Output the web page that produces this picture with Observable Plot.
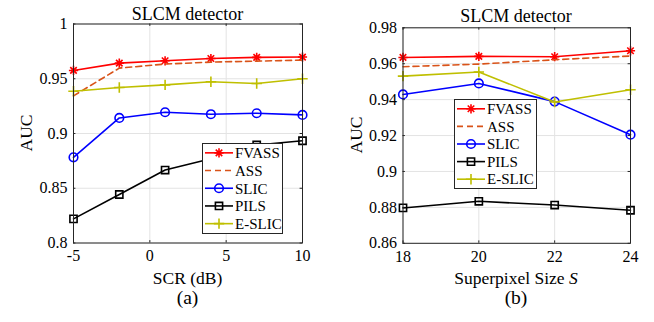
<!DOCTYPE html>
<html><head><meta charset="utf-8">
<script src="https://cdn.jsdelivr.net/npm/d3@7"></script>
<script src="https://cdn.jsdelivr.net/npm/@observablehq/plot@0.6"></script>
<style>
body{margin:0;background:#fff;}
#wrap{position:relative;width:654px;height:322px;font-family:"Liberation Serif",serif;color:#000;overflow:hidden;}
#wrap svg, #wrap svg text, #wrap .t{font-family:"Liberation Serif",serif !important;}
.t{position:absolute;white-space:nowrap;line-height:1;transform:translate(-50%,-50%);}
.p{position:absolute;top:0;}
.lg{position:absolute;background:#fff;border:1px solid #262626;box-sizing:border-box;}
</style></head><body><div id="wrap"></div>
<script>
// ---------- data ----------
const seriesNames = ["FVASS", "ASS", "SLIC", "PILS", "E-SLIC"];
const seriesColors = ["#ff0000", "#d95319", "#0000ff", "#000000", "#bfbf00"];

// (a) AUC vs SCR
const scr = [-5, -2, 1, 4, 7, 10];
const fvassA = [0.9576, 0.9643, 0.9664, 0.9685, 0.9695, 0.9698];
const assA   = [0.9344, 0.9597, 0.9634, 0.9652, 0.9661, 0.9670];
const slicA  = [0.8782, 0.9142, 0.9194, 0.9176, 0.9185, 0.9170];
const pilsA  = [0.8220, 0.8443, 0.8666, 0.8770, 0.8895, 0.8934];
const eslicA = [0.9386, 0.9420, 0.9444, 0.9472, 0.9457, 0.9500];
const xTicksA = [-5, 0, 5, 10];
const yTicksA = [0.8, 0.85, 0.9, 0.95, 1];

// (b) AUC vs superpixel size S
const sizeS = [18, 20, 22, 24];
const fvassB = [0.9635, 0.9641, 0.9639, 0.9672];
const assB   = [0.9583, 0.9598, 0.9622, 0.9643];
const slicB  = [0.9429, 0.9490, 0.9389, 0.9205];
const pilsB  = [0.8797, 0.8834, 0.8813, 0.8784];
const eslicB = [0.9531, 0.9554, 0.9387, 0.9455];
const xTicksB = [18, 20, 22, 24];
const yTicksB = [0.86, 0.88, 0.9, 0.92, 0.94, 0.96, 0.98];

// ---------- marker symbols (MATLAB-like) ----------
const rad = s => Math.sqrt(s / Math.PI);
const symAsterisk = {draw(c, s) { const r = rad(s), d = r * Math.SQRT1_2;
  c.moveTo(-r, 0); c.lineTo(r, 0); c.moveTo(0, -r); c.lineTo(0, r);
  c.moveTo(-d, -d); c.lineTo(d, d); c.moveTo(-d, d); c.lineTo(d, -d); }};
const symCircle = {draw(c, s) { const r = rad(s); c.moveTo(r, 0); c.arc(0, 0, r, 0, 2 * Math.PI); }};
const symSquare = {draw(c, s) { const r = rad(s); c.rect(-r, -r, 2 * r, 2 * r); }};
const symPlus = {draw(c, s) { const r = rad(s); c.moveTo(-r, 0); c.lineTo(r, 0); c.moveTo(0, -r); c.lineTo(0, r); }};
const seriesSymbols = [symAsterisk, null, symCircle, symSquare, symPlus];
const seriesR = [4.6, 0, 4.3, 3.6, 5.2];
const seriesDash = [null, "6,4", null, null, null];
const FONT = "'Liberation Serif', serif";

function makePlot(xs, vals, cfg) {
  const [x0, x1] = cfg.xDomain, [y0, y1] = cfg.yDomain;
  const pw = cfg.width - cfg.ml - cfg.mr, ph = 322 - cfg.mt - cfg.mb;
  const tx = 2.4 / pw * (x1 - x0), ty = 2.4 / ph * (y1 - y0); // MATLAB-style inward tick length
  const tickStyle = {stroke: "#262626", strokeWidth: 1};
  const marks = [
    Plot.gridX(cfg.xTicks, {stroke: "#e3e3e3", strokeOpacity: 1}),
    Plot.gridY(cfg.yTicks, {stroke: "#e3e3e3", strokeOpacity: 1}),
    Plot.axisX(cfg.xTicks, {tickSize: 0, tickPadding: 7, label: null, tickFormat: d => String(d), fontFamily: FONT}),
    Plot.axisY(cfg.yTicks, {tickSize: 0, tickPadding: 6, label: null, tickFormat: d => String(d), fontFamily: FONT}),
    Plot.ruleX(cfg.xTicks, {y1: y0, y2: y0 + ty, ...tickStyle}),
    Plot.ruleX(cfg.xTicks, {y1: y1, y2: y1 - ty, ...tickStyle}),
    Plot.ruleY(cfg.yTicks, {x1: x0, x2: x0 + tx, ...tickStyle}),
    Plot.ruleY(cfg.yTicks, {x1: x1, x2: x1 - tx, ...tickStyle})
  ];
  vals.forEach((v, i) => {
    const data = xs.map((x, j) => ({x, y: v[j]}));
    marks.push(Plot.line(data, {x: "x", y: "y", stroke: seriesColors[i], strokeWidth: 1.6,
      strokeDasharray: seriesDash[i] || undefined}));
    if (seriesSymbols[i]) marks.push(Plot.dot(data, {x: "x", y: "y", symbol: seriesSymbols[i], r: seriesR[i],
      stroke: seriesColors[i], fill: "none", strokeWidth: 1.6}));
  });
  marks.push(Plot.frame({stroke: "#262626", strokeWidth: 1}));
  return Plot.plot({
    width: cfg.width, height: 322,
    marginLeft: cfg.ml, marginRight: cfg.mr, marginTop: cfg.mt, marginBottom: cfg.mb,
    style: {fontFamily: FONT, fontSize: "16px", background: "transparent", color: "#000", overflow: "visible"},
    x: {domain: cfg.xDomain},
    y: {domain: cfg.yDomain},
    marks
  });
}

const wrap = document.getElementById("wrap");

const pa = makePlot(scr, [fvassA, assA, slicA, pilsA, eslicA],
  {width: 330, ml: 73, mr: 28, mt: 23.5, mb: 79.5, xDomain: [-5, 10], yDomain: [0.8, 1], xTicks: xTicksA, yTicks: yTicksA});
pa.classList.add("p"); pa.style.left = "0px"; wrap.appendChild(pa);

const pb = makePlot(sizeS, [fvassB, assB, slicB, pilsB, eslicB],
  {width: 324, ml: 72.5, mr: 24, mt: 27.3, mb: 79.2, xDomain: [18, 24], yDomain: [0.86, 0.98], xTicks: xTicksB, yTicks: yTicksB});
pb.classList.add("p"); pb.style.left = "330px"; wrap.appendChild(pb);

function addText(html, x, y, size, rot) {
  const d = document.createElement("div");
  d.className = "t"; d.innerHTML = html;
  d.style.left = x + "px"; d.style.top = y + "px"; d.style.fontSize = size + "px";
  if (rot) d.style.transform = "translate(-50%,-50%) rotate(-90deg)";
  wrap.appendChild(d);
}
addText("SLCM detector", 187.5, 14, 18);
addText("SLCM detector", 516, 15.5, 18);
addText("AUC", 27, 133, 17.5, true);
addText("AUC", 357, 135, 17.5, true);
addText("SCR (dB)", 187.5, 279, 17.5);
addText("Superpixel Size <i>S</i>", 516, 279, 17.5);
addText("(a)", 187.5, 298, 19.5);
addText("(b)", 516, 298, 19.5);

function addLegend(left, top, w, h) {
  const div = document.createElement("div");
  div.className = "lg";
  div.style.left = left + "px"; div.style.top = top + "px";
  div.style.width = w + "px"; div.style.height = h + "px";
  const svg = d3.create("svg").attr("width", w - 2).attr("height", h - 2).style("display", "block");
  const rowH = (h - 2) / 5;
  seriesNames.forEach((name, i) => {
    const cy = rowH * (i + 0.5);
    const g = svg.append("g");
    g.append("line").attr("x1", 2).attr("x2", 30).attr("y1", cy).attr("y2", cy)
      .attr("stroke", seriesColors[i]).attr("stroke-width", 1.6)
      .attr("stroke-dasharray", seriesDash[i] || null);
    if (seriesSymbols[i]) g.append("path")
      .attr("d", d3.symbol(seriesSymbols[i], Math.PI * seriesR[i] * seriesR[i])())
      .attr("transform", `translate(16,${cy})`)
      .attr("fill", "none").attr("stroke", seriesColors[i]).attr("stroke-width", 1.6);
    g.append("text").attr("x", 32).attr("y", cy).attr("dy", "0.35em")
      .attr("font-family", FONT).attr("font-size", 15).text(name);
  });
  div.appendChild(svg.node());
  wrap.appendChild(div);
}
addLegend(201.5, 143, 81.5, 90.5);
addLegend(454, 98.5, 82.5, 90);
</script>
</body></html>
